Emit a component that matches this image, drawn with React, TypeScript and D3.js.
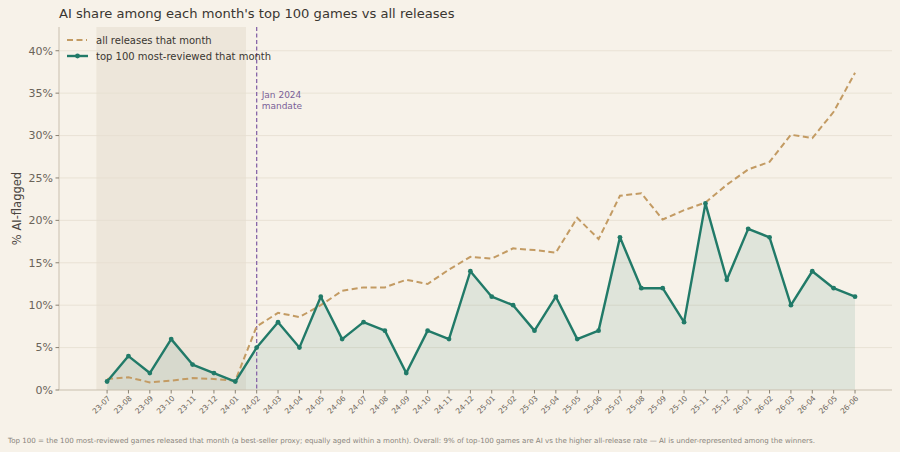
import * as d3 from 'd3';
import React, { useEffect, useRef } from 'react';

const months = [
  '23-07', '23-08', '23-09', '23-10', '23-11', '23-12',
  '24-01', '24-02', '24-03', '24-04', '24-05', '24-06', '24-07', '24-08', '24-09', '24-10', '24-11', '24-12',
  '25-01', '25-02', '25-03', '25-04', '25-05', '25-06', '25-07', '25-08', '25-09', '25-10', '25-11', '25-12',
  '26-01', '26-02', '26-03', '26-04', '26-05', '26-06',
];

// % AI-flagged, top 100 most-reviewed games per month
const top100 = [
  1, 4, 2, 6, 3, 2,
  1, 5, 8, 5, 11, 6, 8, 7, 2, 7, 6, 14,
  11, 10, 7, 11, 6, 7, 18, 12, 12, 8, 22, 13,
  19, 18, 10, 14, 12, 11,
];

// % AI-flagged, all releases per month
const allReleases = [
  1.3, 1.5, 0.9, 1.1, 1.4, 1.3,
  1.1, 7.5, 9.1, 8.6, 10.0, 11.7, 12.1, 12.1, 13.0, 12.5, 14.2, 15.7,
  15.5, 16.7, 16.5, 16.2, 20.3, 17.8, 22.9, 23.2, 20.1, 21.2, 22.1, 24.2,
  26.0, 26.9, 30.1, 29.7, 32.8, 37.4,
];

const yTicks = [0, 5, 10, 15, 20, 25, 30, 35, 40];

const TITLE = "AI share among each month's top 100 games vs all releases";
const FOOTER = 'Top 100 = the 100 most-reviewed games released that month (a best-seller proxy; equally aged within a month). Overall: 9% of top-100 games are AI vs the higher all-release rate \u2014 AI is under-represented among the winners.';

const BG = '#f7f2e9';
const TEAL = '#217a68';
const TAN = '#c39b63';
const PURPLE = '#8866a8';
const FONT = '"DejaVu Sans", sans-serif';

const App: React.FC = () => {
  const svgRef = useRef<SVGSVGElement>(null);

  useEffect(() => {
    if (!svgRef.current) return;
    d3.select(svgRef.current).selectAll('*').remove();

    const width = 900;
    const height = 452;
    const left = 59;
    const right = 892;
    const top = 27;
    const bottom = 390;

    const svg = d3.select(svgRef.current)
      .attr('width', width)
      .attr('height', height)
      .style('font-family', FONT);

    svg.append('rect').attr('width', width).attr('height', height).attr('fill', BG);

    const x = d3.scaleLinear().domain([-2.25, 36.73]).range([left, right]);
    const y = d3.scaleLinear().domain([0, 42.8]).range([bottom, top]);

    // pre-mandate shading (23-07 .. 24-01)
    svg.append('rect')
      .attr('x', x(-0.5))
      .attr('y', top)
      .attr('width', x(6.5) - x(-0.5))
      .attr('height', bottom - top)
      .attr('fill', '#ede6da');

    // gridlines
    svg.append('g')
      .selectAll('line')
      .data(yTicks.filter(t => t > 0))
      .join('line')
      .attr('x1', left)
      .attr('x2', right)
      .attr('y1', d => y(d))
      .attr('y2', d => y(d))
      .attr('stroke', '#e6ded0')
      .attr('stroke-width', 0.8);

    // area under top 100
    const area = d3.area<number>()
      .x((_, i) => x(i))
      .y0(y(0))
      .y1(d => y(d));
    svg.append('path')
      .datum(top100)
      .attr('d', area)
      .attr('fill', TEAL)
      .attr('fill-opacity', 0.11);

    // mandate line
    svg.append('line')
      .attr('x1', x(7))
      .attr('x2', x(7))
      .attr('y1', top)
      .attr('y2', bottom)
      .attr('stroke', PURPLE)
      .attr('stroke-width', 1.3)
      .attr('stroke-dasharray', '4,2.5');

    svg.append('text')
      .attr('x', x(7) + 5)
      .attr('y', 98)
      .attr('font-size', 9)
      .attr('fill', '#7a5f98')
      .selectAll('tspan')
      .data(['Jan 2024', 'mandate'])
      .join('tspan')
      .attr('x', x(7) + 5)
      .attr('dy', (_, i) => (i === 0 ? 0 : 11))
      .text(d => d);

    // all releases dashed
    const line = d3.line<number>()
      .x((_, i) => x(i))
      .y(d => y(d));
    svg.append('path')
      .datum(allReleases)
      .attr('d', line)
      .attr('fill', 'none')
      .attr('stroke', TAN)
      .attr('stroke-width', 2)
      .attr('stroke-dasharray', '6,3.5');

    // top 100 line + markers
    svg.append('path')
      .datum(top100)
      .attr('d', line)
      .attr('fill', 'none')
      .attr('stroke', TEAL)
      .attr('stroke-width', 2.4)
      .attr('stroke-linejoin', 'round');

    svg.append('g')
      .selectAll('circle')
      .data(top100)
      .join('circle')
      .attr('cx', (_, i) => x(i))
      .attr('cy', d => y(d))
      .attr('r', 2.4)
      .attr('fill', TEAL);

    // axes spines
    svg.append('line')
      .attr('x1', left).attr('x2', left)
      .attr('y1', top).attr('y2', bottom)
      .attr('stroke', '#c9bfae').attr('stroke-width', 1);
    svg.append('line')
      .attr('x1', left).attr('x2', right)
      .attr('y1', bottom).attr('y2', bottom)
      .attr('stroke', '#c9bfae').attr('stroke-width', 1);

    // y ticks
    const yg = svg.append('g');
    yTicks.forEach(t => {
      yg.append('line')
        .attr('x1', left - 3.5).attr('x2', left)
        .attr('y1', y(t)).attr('y2', y(t))
        .attr('stroke', '#8a8272');
      yg.append('text')
        .attr('x', left - 6)
        .attr('y', y(t))
        .attr('dy', '0.35em')
        .attr('text-anchor', 'end')
        .attr('font-size', 11)
        .attr('fill', '#6b6459')
        .text(`${t}%`);
    });

    // x ticks
    const xg = svg.append('g');
    months.forEach((m, i) => {
      xg.append('line')
        .attr('x1', x(i)).attr('x2', x(i))
        .attr('y1', bottom).attr('y2', bottom + 3.5)
        .attr('stroke', '#8a8272');
      xg.append('text')
        .attr('transform', `translate(${x(i) + 2},${bottom + 7}) rotate(-45)`)
        .attr('text-anchor', 'end')
        .attr('dy', '0.35em')
        .attr('font-size', 7.5)
        .attr('fill', '#6b6459')
        .text(m);
    });

    // y label
    svg.append('text')
      .attr('transform', `translate(21,${(top + bottom) / 2}) rotate(-90)`)
      .attr('text-anchor', 'middle')
      .attr('font-size', 11.5)
      .attr('fill', '#4a4540')
      .text('% AI-flagged');

    // title
    svg.append('text')
      .attr('x', left)
      .attr('y', 18)
      .attr('font-size', 13.1)
      .attr('fill', '#3a3631')
      .text(TITLE);

    // legend
    const lg = svg.append('g');
    lg.append('line')
      .attr('x1', 67).attr('x2', 87).attr('y1', 40).attr('y2', 40)
      .attr('stroke', TAN).attr('stroke-width', 2).attr('stroke-dasharray', '6,3.5');
    lg.append('text')
      .attr('x', 96).attr('y', 40).attr('dy', '0.35em')
      .attr('font-size', 10).attr('fill', '#3a3631')
      .text('all releases that month');
    lg.append('line')
      .attr('x1', 67).attr('x2', 88).attr('y1', 56).attr('y2', 56)
      .attr('stroke', TEAL).attr('stroke-width', 2.4);
    lg.append('circle')
      .attr('cx', 77.5).attr('cy', 56).attr('r', 2.4).attr('fill', TEAL);
    lg.append('text')
      .attr('x', 96).attr('y', 56).attr('dy', '0.35em')
      .attr('font-size', 10).attr('fill', '#3a3631')
      .text('top 100 most-reviewed that month');

    // footer
    svg.append('text')
      .attr('x', 8)
      .attr('y', 443)
      .attr('font-size', 7.1)
      .attr('fill', '#8a857c')
      .text(FOOTER);
  }, []);

  return (
    <div>
      <style>{`body { margin: 0; background: ${BG}; }`}</style>
      <svg ref={svgRef} style={{ display: 'block' }}></svg>
    </div>
  );
};

export default App;
